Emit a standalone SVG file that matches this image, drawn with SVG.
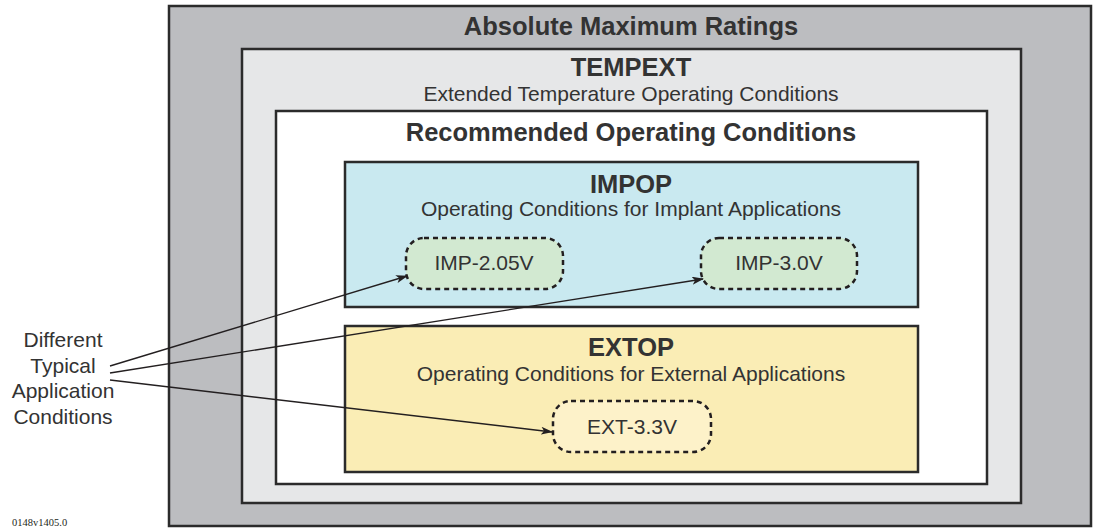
<svg xmlns="http://www.w3.org/2000/svg" width="1094" height="529" viewBox="0 0 1094 529">
<style>
.box{stroke:#2b2b2b;stroke-width:2.5}
.pill{stroke:#231f20;stroke-width:2.5;stroke-dasharray:5 4}
text{font-family:"Liberation Sans",Arial,sans-serif;fill:#333;text-anchor:middle}
.h{font-weight:bold;font-size:25.5px}
.s{font-size:21px}
.conn{stroke:#231f20;stroke-width:1.4;fill:none;marker-end:url(#ah)}
</style>
<defs>
<marker id="ah" markerWidth="12" markerHeight="8" refX="11" refY="4" orient="auto" markerUnits="userSpaceOnUse">
<path d="M0,0 L12,4 L0,8 L3,4 Z" fill="#231f20"/>
</marker>
</defs>
<rect width="1094" height="529" fill="#fff"/>
<g id="amr">
<rect class="box" x="169" y="6" width="922" height="520" fill="#bcbdc0"/>
<text class="h" x="631" y="35">Absolute Maximum Ratings</text>
</g>
<g id="tempext">
<rect class="box" x="242" y="49" width="779" height="454" fill="#e6e7e8"/>
<text class="h" x="631" y="76">TEMPEXT</text>
<text class="s" x="631" y="101">Extended Temperature Operating Conditions</text>
</g>
<g id="roc">
<rect class="box" x="276" y="111" width="711" height="373" fill="#ffffff"/>
<text class="h" x="631" y="141">Recommended Operating Conditions</text>
</g>
<g id="impop">
<rect class="box" x="345" y="162" width="573" height="145" fill="#c9e9f0"/>
<text class="h" x="631" y="193">IMPOP</text>
<text class="s" x="631" y="216">Operating Conditions for Implant Applications</text>
</g>
<g id="extop">
<rect class="box" x="345" y="326" width="573" height="146" fill="#faedb5"/>
<text class="h" x="631" y="356">EXTOP</text>
<text class="s" x="631" y="381">Operating Conditions for External Applications</text>
</g>
<g id="imp205">
<rect class="pill" x="406" y="238" width="157" height="51" rx="18" fill="#d2e9d1"/>
<text class="s" x="484" y="270">IMP-2.05V</text>
</g>
<g id="imp30">
<rect class="pill" x="701" y="238" width="156" height="51" rx="18" fill="#d2e9d1"/>
<text class="s" x="779" y="270">IMP-3.0V</text>
</g>
<g id="ext33">
<rect class="pill" x="553" y="401" width="158" height="51" rx="18" fill="#fdf2c9"/>
<text class="s" x="632" y="434">EXT-3.3V</text>
</g>
<g id="label">
<text class="s" x="63" y="347">Different</text>
<text class="s" x="63" y="373">Typical</text>
<text class="s" x="63" y="398">Application</text>
<text class="s" x="63" y="424">Conditions</text>
</g>
<g id="connectors">
<line class="conn" x1="110" y1="366" x2="407" y2="276"/>
<line class="conn" x1="110" y1="373" x2="703" y2="279"/>
<line class="conn" x1="110" y1="380" x2="552" y2="432"/>
</g>
<text x="12" y="526" style="font-family:'Liberation Serif',serif;font-size:10.5px;text-anchor:start;fill:#231f20">0148v1405.0</text>
</svg>
